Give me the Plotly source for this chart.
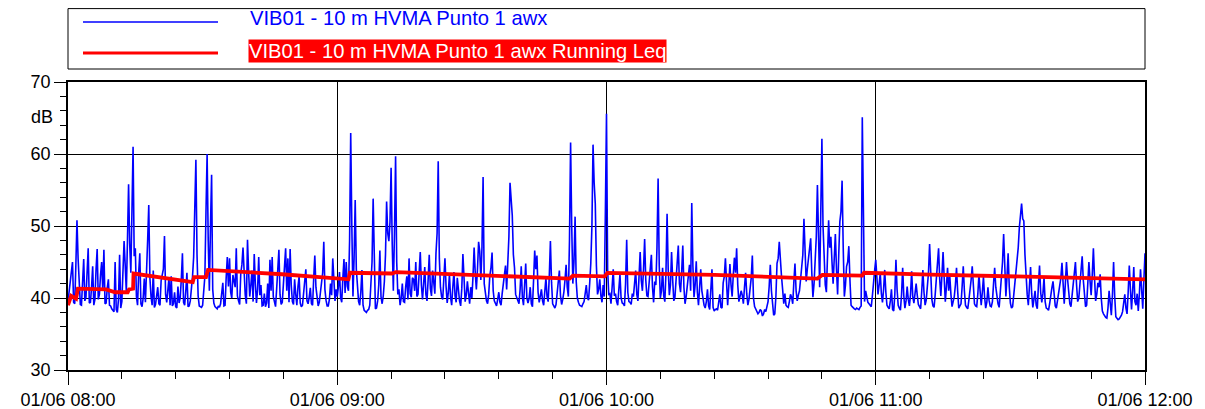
import pandas as pd
import plotly.graph_objects as go

# ---------------- data ----------------
start_time = "2023-06-01 08:00:00"
end_time = "2023-06-01 12:00:00"
sample_seconds = 15

series_awx_name = "VIB01 - 10 m HVMA Punto 1 awx"
series_leq_name = "VIB01 - 10 m HVMA Punto 1 awx Running Leq"

# awx level (dB) on the half minute, 08:00 -> 12:00
awx_h1 = [
    39.5, 42.5, 45.0, 39.2, 50.8, 41.0, 39.0, 45.4, 40.1, 46.9,
    39.4, 44.4, 39.8, 46.8, 40.5, 45.0, 46.7, 39.3, 42.6, 38.9,
    38.2, 45.0, 38.0, 46.0, 39.5, 47.9, 40.8, 55.8, 43.5, 61.0,
    46.9, 39.0, 46.2, 38.8, 42.7, 45.7, 52.9, 40.2, 43.8, 39.1,
    41.5, 39.0, 43.0, 48.6, 39.4, 42.8, 43.0, 39.2, 38.8, 41.6,
    40.0, 46.2, 39.0, 43.5, 38.9, 41.2, 45.7, 59.2, 40.3, 38.8,
    39.0, 43.0, 60.0, 41.0, 57.1, 39.3, 38.6, 38.9, 39.2, 42.1,
    39.0, 45.7, 45.5, 40.0, 42.5, 46.9, 39.6, 43.4, 47.0, 40.4,
    48.1, 40.2, 43.8, 46.1, 39.3, 45.7, 41.8, 39.0, 38.8, 42.0,
    45.3, 45.7, 39.4, 41.3, 46.7, 39.1, 42.4, 46.9, 45.5, 46.8,
    39.5, 42.6, 39.0, 43.0, 38.8, 40.6, 44.0, 39.2, 41.4, 39.0,
    45.9, 40.3, 39.4, 42.2, 47.8, 39.7, 38.9, 42.0, 45.5, 39.6,
]
awx_h2 = [
    40.2, 43.6, 39.4, 45.4, 45.0, 41.0, 62.9, 40.2, 53.6, 40.8,
    39.0, 43.9, 38.3, 38.0, 38.4, 41.5, 53.8, 38.5, 39.6, 46.6,
    39.2, 42.3, 53.4, 47.9, 58.1, 41.0, 59.7, 40.5, 39.0, 42.0,
    39.4, 43.0, 45.5, 40.1, 42.6, 45.0, 40.5, 46.4, 39.8, 44.3,
    39.6, 46.0, 40.3, 42.5, 46.2, 59.0, 41.5, 39.8, 45.5, 39.3,
    43.3, 39.0, 43.6, 39.4, 41.0, 38.9, 46.1, 39.5, 42.3, 39.2,
    40.0, 47.0, 41.2, 47.8, 42.5, 56.8, 40.3, 39.2, 43.1, 46.3,
    39.6, 38.9, 40.8, 39.0, 42.2, 44.5, 45.0, 56.0, 51.5, 44.2,
    40.0, 39.2, 44.4, 39.0, 44.8, 39.3, 41.5, 38.8, 46.6, 45.9,
    39.4, 41.2, 39.0, 42.8, 39.5, 47.9, 39.2, 38.6, 40.5, 43.8,
    39.1, 40.8, 44.6, 40.2, 61.6, 42.0, 51.3, 40.0, 39.0, 38.8,
    39.5, 41.8, 39.7, 44.8, 61.3, 53.1, 40.5, 42.6, 39.4, 40.2,
]
awx_h3 = [
    65.6, 40.5, 39.2, 44.0, 40.6, 39.0, 43.3, 39.3, 38.9, 48.1,
    39.5, 39.1, 40.2, 43.8, 39.6, 46.4, 41.0, 48.2, 40.3, 42.5,
    46.0, 39.4, 41.8, 56.6, 40.0, 44.2, 39.5, 51.7, 40.4, 46.4,
    39.6, 42.8, 47.3, 40.8, 47.3, 39.2, 42.0, 44.6, 53.2, 40.1,
    45.1, 39.0, 44.0, 39.6, 38.6, 41.2, 38.4, 44.0, 38.2, 38.5,
    39.8, 38.7, 42.1, 45.5, 39.0, 44.7, 40.2, 45.6, 46.9, 39.5,
    41.0, 39.2, 43.5, 39.0, 41.4, 45.9, 38.8, 38.3, 38.0, 38.2,
    37.8, 38.1, 39.5, 44.6, 38.6, 37.8, 44.8, 47.8, 43.0, 39.2,
    39.0, 38.7, 40.5, 39.2, 44.8, 39.6, 41.0, 44.1, 51.0, 42.3,
    45.8, 48.3, 40.1, 44.5, 55.7, 41.5, 62.1, 44.0, 40.8, 50.8,
    48.5, 42.0, 48.9, 40.5, 50.6, 56.3, 40.2, 44.4, 47.2, 39.0,
    38.6, 38.4, 38.5, 38.7, 65.1, 39.5, 40.0, 39.2, 38.8, 42.5,
]
awx_h4 = [
    45.3, 40.5, 43.5, 39.4, 43.9, 39.0, 38.5, 41.2, 38.2, 45.3,
    39.0, 38.3, 44.2, 38.6, 41.6, 38.9, 43.7, 39.3, 42.0, 39.1,
    38.5, 43.9, 39.0, 41.5, 47.5, 39.8, 38.7, 42.4, 46.9, 40.3,
    46.4, 39.5, 44.2, 43.0, 38.8, 40.2, 44.2, 38.6, 39.2, 44.4,
    39.0, 38.5, 40.8, 44.4, 39.2, 38.8, 43.3, 39.0, 42.9, 38.6,
    41.5, 38.9, 39.5, 44.2, 40.0, 38.7, 42.3, 48.9, 40.2, 46.2,
    39.3, 38.8, 42.0, 45.2, 49.8, 53.1, 50.7, 42.5, 39.0, 44.3,
    38.7, 41.0, 38.5, 44.5, 39.4, 42.8, 38.6, 38.3, 40.6, 42.3,
    38.9, 39.6, 41.3, 44.9, 39.2, 45.0, 40.5, 38.8, 42.0, 45.0,
    39.5, 41.8, 45.8, 40.2, 39.0, 45.0, 40.4, 46.9, 39.6, 42.1,
    43.3, 38.2, 37.5, 37.2, 41.0, 37.6, 45.0, 37.4, 37.0, 37.3,
    38.1, 40.5, 37.8, 44.5, 38.4, 44.3, 39.0, 38.2, 44.0, 38.5,
    46.2,
]
# awx level (dB) at the quarter past each half minute (xx:xx:15 / xx:xx:45)
awx_mid_h1 = [
    40.8, 43.0, 39.4, 44.5, 45.5, 39.1, 41.8, 39.6, 43.5, 39.3,
    41.5, 39.0, 44.0, 39.8, 43.2, 41.0, 39.2, 41.4, 39.0, 38.5,
    38.1, 38.4, 39.8, 38.6, 43.0, 44.5, 48.0, 47.5, 52.0, 45.8,
    40.2, 43.5, 39.2, 40.0, 39.4, 48.0, 42.8, 39.0, 38.7, 40.5,
    39.2, 42.4, 44.0, 40.5, 41.3, 39.0, 38.9, 40.8, 38.6, 39.3,
    42.6, 39.4, 41.0, 38.8, 39.6, 43.0, 51.0, 46.0, 38.9, 38.7,
    40.5, 52.0, 48.0, 50.0, 41.2, 38.8, 38.5, 38.7, 40.6, 38.9,
    42.8, 41.6, 40.8, 43.2, 41.5, 40.3, 39.1, 44.6, 42.7, 39.2,
    43.6, 41.8, 39.5, 42.0, 41.2, 40.4, 38.9, 40.6, 39.3, 38.6,
    41.0, 40.2, 38.8, 43.6, 40.5, 39.4, 44.1, 41.0, 39.4, 41.8,
    39.1, 40.5, 41.6, 39.3, 39.0, 42.5, 39.6, 40.1, 39.2, 42.7,
    41.5, 38.9, 40.7, 43.5, 41.2, 38.9, 39.8, 40.4, 42.0, 41.2,
]
awx_mid_h2 = [
    41.5, 40.0, 42.8, 40.7, 41.6, 48.0, 50.0, 45.5, 44.0, 39.5,
    40.8, 39.0, 38.2, 38.3, 39.0, 45.0, 44.0, 38.6, 41.8, 40.2,
    40.3, 46.0, 49.0, 50.5, 47.5, 49.0, 45.0, 41.2, 40.0, 39.5,
    41.6, 39.8, 40.6, 42.8, 41.0, 40.2, 43.5, 41.8, 42.0, 40.5,
    42.5, 41.3, 43.8, 40.6, 49.0, 45.5, 40.2, 42.4, 41.6, 40.8,
    40.1, 41.5, 40.3, 42.8, 39.6, 41.3, 42.0, 40.4, 40.7, 41.5,
    43.0, 43.5, 44.0, 46.5, 47.0, 42.0, 39.6, 40.5, 44.2, 41.0,
    39.2, 39.8, 39.4, 40.6, 43.0, 41.2, 48.5, 53.0, 46.0, 40.5,
    39.5, 41.2, 40.1, 41.8, 40.0, 39.9, 39.2, 42.5, 44.0, 40.8,
    40.3, 39.6, 40.9, 40.2, 43.0, 42.2, 38.9, 39.1, 41.6, 40.3,
    39.8, 42.5, 41.5, 48.0, 50.0, 45.0, 42.3, 39.4, 38.9, 39.2,
    40.6, 40.0, 42.0, 50.0, 56.0, 44.5, 41.2, 40.3, 41.8, 52.0,
]
awx_mid_h3 = [
    44.0, 40.6, 41.5, 40.3, 39.5, 41.2, 40.0, 39.2, 42.0, 40.8,
    39.4, 40.6, 42.0, 40.5, 43.0, 42.4, 44.0, 42.5, 40.2, 43.8,
    41.5, 42.3, 47.0, 44.5, 41.0, 40.3, 43.5, 44.0, 41.8, 42.5,
    40.1, 44.5, 42.0, 43.6, 41.5, 40.2, 43.2, 41.0, 44.5, 41.8,
    40.8, 41.5, 41.0, 39.0, 39.5, 38.9, 40.6, 38.7, 38.4, 38.3,
    40.5, 38.6, 43.0, 41.8, 41.6, 41.8, 43.2, 43.5, 41.8, 40.2,
    40.4, 41.5, 40.6, 39.8, 42.8, 40.0, 38.5, 37.8, 38.4, 37.5,
    38.4, 38.8, 41.6, 41.0, 37.6, 40.2, 45.5, 44.5, 41.2, 40.6,
    38.8, 39.5, 40.1, 42.2, 41.0, 40.4, 42.6, 46.0, 47.0, 44.0,
    46.5, 43.5, 42.0, 48.5, 47.0, 52.0, 50.0, 41.8, 45.0, 47.0,
    45.0, 45.5, 44.0, 46.0, 52.0, 47.0, 41.8, 45.0, 42.5, 38.8,
    38.5, 38.6, 38.4, 38.9, 52.0, 41.0, 39.4, 38.9, 40.3, 43.8,
]
awx_mid_h4 = [
    42.8, 41.8, 40.6, 41.2, 40.8, 38.7, 39.6, 38.4, 40.5, 41.2,
    38.6, 40.5, 40.3, 39.6, 39.8, 40.5, 40.2, 40.6, 40.4, 38.8,
    41.0, 40.8, 39.7, 43.5, 43.0, 38.9, 40.5, 44.0, 42.6, 43.2,
    42.8, 41.6, 41.0, 40.5, 39.5, 41.8, 41.0, 38.9, 41.6, 41.0,
    38.7, 39.7, 42.5, 41.0, 38.9, 40.6, 41.0, 40.8, 40.2, 39.4,
    39.7, 38.8, 42.0, 41.5, 39.2, 40.5, 45.0, 43.5, 43.0, 41.6,
    38.6, 40.4, 43.8, 47.0, 51.5, 51.0, 46.0, 40.5, 41.5, 40.6,
    39.8, 39.0, 41.8, 40.8, 40.6, 39.5, 38.5, 39.2, 41.4, 40.0,
    38.6, 40.2, 42.8, 41.5, 42.0, 42.6, 39.2, 40.3, 43.6, 41.8,
    40.0, 43.8, 42.5, 38.8, 41.6, 42.4, 43.2, 42.8, 40.5, 41.5,
    40.0, 37.8, 37.3, 38.6, 38.8, 40.5, 40.2, 37.2, 37.1, 37.6,
    39.2, 38.6, 40.8, 41.2, 41.0, 39.5, 40.6, 40.6, 41.2, 42.5,
]

# running Leq read at its break points (minutes after 08:00, dB)
leq_minutes = [0.0, 0.7, 1.8, 2.2, 8.5, 10.5, 13.3, 13.6, 14.5, 14.6,
               27.8, 28.1, 30.75, 31.2, 47.7, 62.5, 62.8, 72.2, 73.1,
               96.0, 111.8, 112.5, 119.6, 120.2, 144.1, 167.0, 168.1,
               177.0, 177.4, 192.2, 212.0, 212.3, 240.0]
leq_values = [39.0, 40.3, 39.9, 41.3, 41.2, 40.8, 40.8, 41.2, 41.3, 43.4,
              42.2, 42.9, 42.9, 43.9, 43.3, 42.6, 43.5, 43.4, 43.6,
              43.0, 42.7, 43.1, 43.0, 43.5, 43.2, 42.7, 43.2,
              43.1, 43.5, 43.25, 42.95, 43.05, 42.6]

y_tick_values = [30, 40, 50, 60, 70]
y_unit = "dB"

# ---------------- build ----------------
awx_on = awx_h1 + awx_h2 + awx_h3 + awx_h4
awx_mid = awx_mid_h1 + awx_mid_h2 + awx_mid_h3 + awx_mid_h4
awx_values = []
for k, v in enumerate(awx_on):
    awx_values.append(v)
    if k < len(awx_mid):
        awx_values.append(awx_mid[k])

awx_times = pd.date_range(start_time, periods=len(awx_values), freq=f"{sample_seconds}s")
leq_times = [pd.Timestamp(start_time) + pd.Timedelta(minutes=m) for m in leq_minutes]

FONT = "Liberation Sans, Arial, sans-serif"

# page has an 8 px body margin: figure coordinates = page coordinates - 8
OFF = 8
W, H = 1197, 401
L, T = 68 - OFF, 82 - OFF
R = W - (1145 - OFF)
B = H - (370 - OFF)
PW, PH = 1145 - 68, 370 - 82


def px(x):  # page x -> paper
    return (x - 68) / PW


def py(y):  # page y -> paper
    return (370 - y) / PH


fig = go.Figure()
fig.add_trace(go.Scatter(x=awx_times, y=awx_values, mode="lines",
                         line=dict(color="#0000ff", width=1.6),
                         name=series_awx_name, showlegend=False))
fig.add_trace(go.Scatter(x=leq_times, y=leq_values, mode="lines",
                         line=dict(color="#ff0000", width=3.8),
                         name=series_leq_name, showlegend=False))

shapes = [
    dict(type="rect", xref="paper", yref="paper", x0=px(68), x1=px(1145),
         y0=py(69), y1=py(8.6), line=dict(color="black", width=1),
         fillcolor="white", layer="above"),
    dict(type="line", xref="paper", yref="paper", x0=px(83), x1=px(218),
         y0=py(22), y1=py(22), line=dict(color="#0000ff", width=1.3)),
    dict(type="line", xref="paper", yref="paper", x0=px(83), x1=px(218),
         y0=py(53), y1=py(53), line=dict(color="#ff0000", width=3)),
]

annotations = [
    dict(xref="paper", yref="paper", x=px(248), y=py(18.5), xanchor="left",
         yanchor="middle", text=series_awx_name, showarrow=False,
         font=dict(family=FONT, size=20.2, color="#0000ff")),
    dict(xref="paper", yref="paper", x=px(248), y=py(51), xanchor="left",
         yanchor="middle", text=series_leq_name, showarrow=False,
         bgcolor="#ff0000", borderpad=0,
         font=dict(family=FONT, size=20.2, color="white")),
    dict(xref="paper", yref="y", x=px(42), y=65.1, xanchor="center",
         yanchor="middle", text=y_unit, showarrow=False,
         font=dict(family=FONT, size=18, color="black")),
]

fig.update_layout(
    width=W, height=H, autosize=False,
    margin=dict(l=L, r=R, t=T, b=B, pad=0, autoexpand=False),
    paper_bgcolor="white", plot_bgcolor="white",
    font=dict(family=FONT, size=18, color="black"),
    shapes=shapes, annotations=annotations,
    showlegend=False,
)

fig.update_xaxes(
    type="date", range=[start_time, end_time], automargin=False,
    tickmode="array",
    tickvals=pd.date_range(start_time, end_time, freq="1h"),
    tickformat="%d/%m %H:%M",
    ticks="outside", ticklen=13, tickcolor="black", tickwidth=1,
    showgrid=True, gridcolor="black", gridwidth=1,
    showline=True, linecolor="black", linewidth=1.5, mirror=True,
    zeroline=False,
    tickfont=dict(family=FONT, size=18, color="black"),
    minor=dict(dtick=12 * 60 * 1000, ticks="outside", ticklen=7,
               tickcolor="black", tickwidth=1, showgrid=False),
)
fig.update_yaxes(
    range=[30, 70], tickmode="array", tickvals=y_tick_values, automargin=False,
    ticks="outside", ticklen=12, tickcolor="black", tickwidth=1,
    showgrid=True, gridcolor="black", gridwidth=1,
    showline=True, linecolor="black", linewidth=1.5, mirror=True,
    zeroline=False,
    tickfont=dict(family=FONT, size=18, color="black"),
    minor=dict(dtick=2, ticks="outside", ticklen=6, tickcolor="black",
               tickwidth=1, showgrid=False),
)

fig.write_html("out.html")
